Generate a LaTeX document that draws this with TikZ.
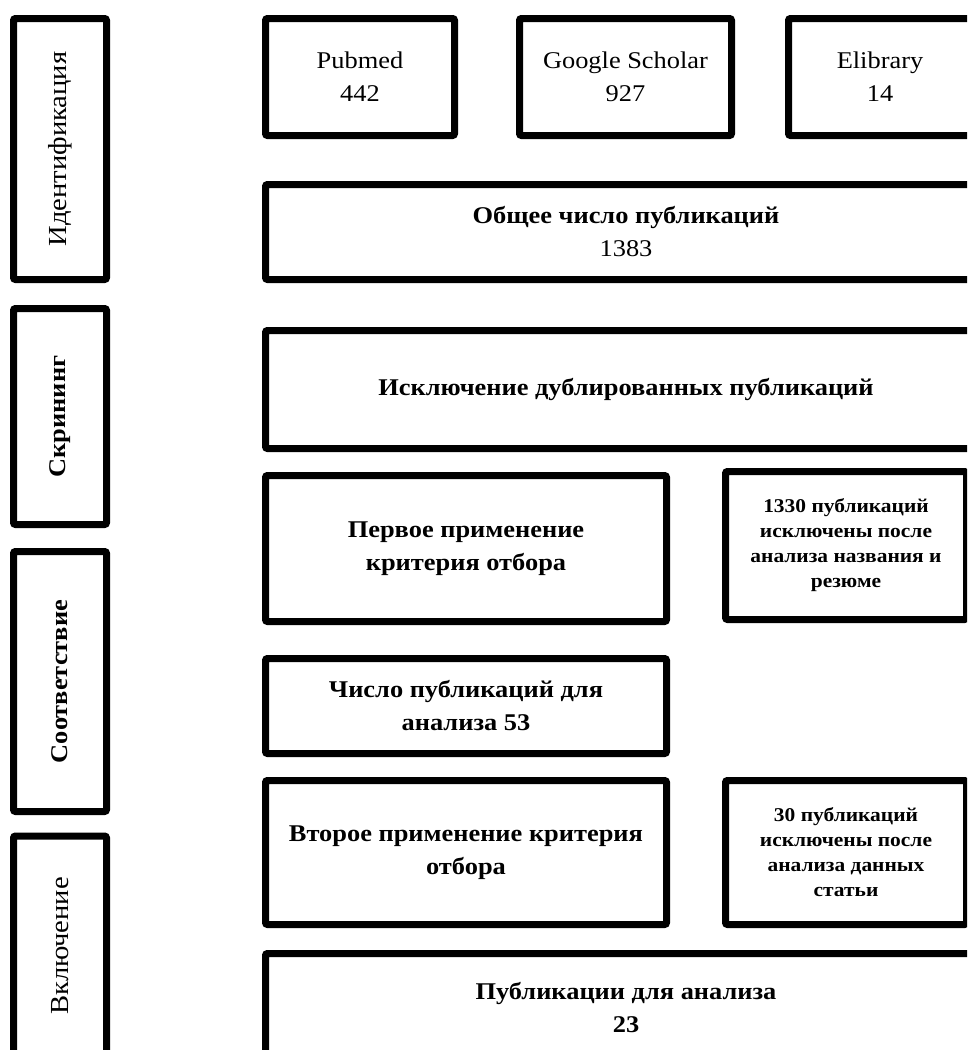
\documentclass[tikz,border=0pt]{standalone}
\usepackage{fontspec}
\setmainfont{Liberation Serif}[FakeStretch=1.1]
\usetikzlibrary{positioning}
\tikzset{
  box/.style={draw, line width=7pt, rounded corners=2pt, align=center, inner sep=0pt},
  stagebox/.style={box, rotate=90, minimum height=93pt},
  normal/.style={font=\fontsize{24}{33}\selectfont},
  label/.style={font=\fontsize{26}{33}\selectfont},
  heavy/.style={font=\bfseries\fontsize{24}{33}\selectfont},
  small/.style={font=\bfseries\fontsize{19.5}{25}\selectfont},
}

\begin{document}
\begin{tikzpicture}[x=1pt, y=-1pt]
  \useasboundingbox (0,0) rectangle (967,1050);
  \clip (0,0) rectangle (967,1050);

  % stages
  \node (ident) [stagebox, label, minimum width=261pt] at (60,149) {Идентификация};
  \node (screen) [stagebox, heavy, minimum width=216pt] at (60,416.5) {Скрининг};
  \node (match) [stagebox, heavy, minimum width=260pt] at (60,681.5) {Соответствие};
  \node (incl) [stagebox, label, minimum width=220pt] at (60,946) {Включение};

  % sources
  \node (pubmed) [box, normal, minimum width=189pt, minimum height=117pt] at (360,77) {Pubmed\\442};
  \node (scholar) [box, normal, minimum width=212pt, minimum height=117pt] at (625.5,77) {Google Scholar\\927};
  \node (elib) [box, normal, minimum width=183pt, minimum height=117pt] at (880,77) {Elibrary\\14};
  \node (total) [box, normal, minimum width=721pt, minimum height=95pt] at (626,232)
    {{\bfseries Общее число публикаций}\\1383};

  % selection
  \node (dup) [box, heavy, minimum width=721pt, minimum height=118pt] at (626,389.5) {Исключение дублированных публикаций};
  \node (first) [box, heavy, minimum width=401pt, minimum height=146pt] at (466,548.5) {Первое применение\\критерия отбора};
  \node (out1) [box, small, minimum width=241pt, minimum height=148pt] at (846,545.5) {1330 публикаций\\исключены после\\анализа названия и\\резюме};
  \node (count) [box, heavy, minimum width=401pt, minimum height=95pt] at (466,706) {Число публикаций для\\анализа 53};
  \node (second) [box, heavy, minimum width=401pt, minimum height=144pt] at (466,852.5) {Второе применение критерия\\отбора};
  \node (out2) [box, small, minimum width=241pt, minimum height=144pt] at (846,852.5) {30 публикаций\\исключены после\\анализа данных\\статьи};
  \node (final) [box, heavy, minimum width=721pt, minimum height=109pt] at (626,1008) {Публикации для анализа\\23};
\end{tikzpicture}
\end{document}
